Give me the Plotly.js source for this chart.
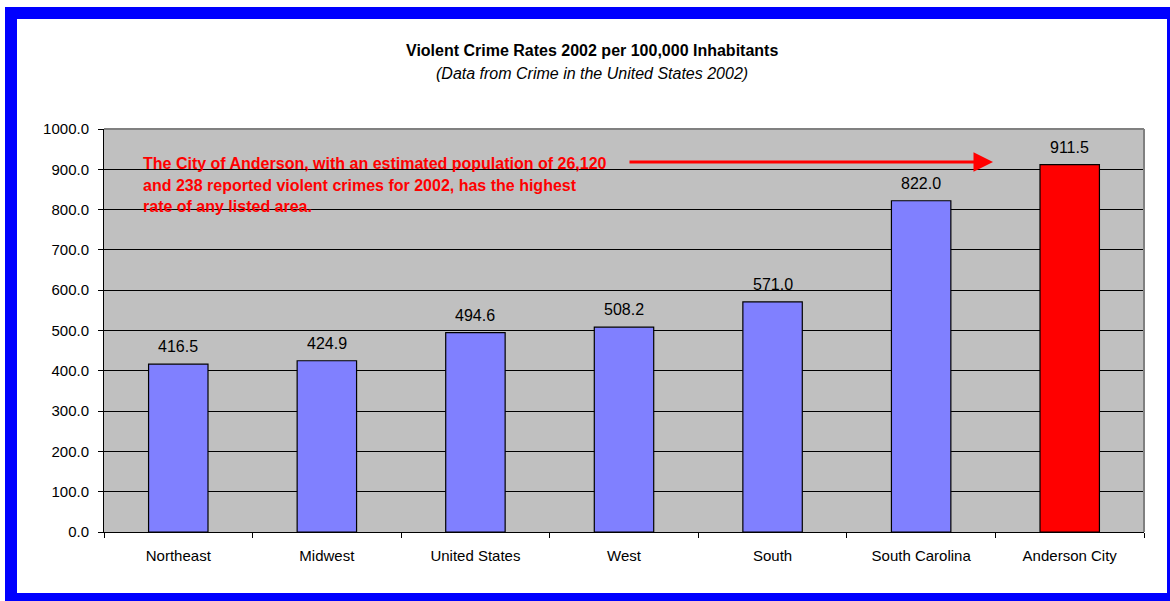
<!DOCTYPE html>
<html>
<head>
<meta charset="utf-8">
<script src="https://cdn.plot.ly/plotly-3.0.1.min.js"></script>
<style>
  html, body { margin: 0; padding: 0; background: #ffffff; }
  #chart { position: absolute; left: 0; top: 0; width: 1170px; height: 601px; }
  #frame {
    position: absolute; left: 5px; top: 7px; width: 1165px; height: 594px;
    box-sizing: border-box; pointer-events: none;
    border-left: 12px solid #0000FF; border-top: 12px solid #0000FF;
    border-right: 3px solid #0000FF; border-bottom: 8px solid #0000FF;
  }
</style>
</head>
<body>
<div id="chart"></div>
<div id="frame"></div>
<script>
const categories = ["Northeast", "Midwest", "United States", "West", "South", "South Carolina", "Anderson City"];
const rates = [416.5, 424.9, 494.6, 508.2, 571.0, 822.0, 911.5];
const barColors = ["#8080FF", "#8080FF", "#8080FF", "#8080FF", "#8080FF", "#8080FF", "#FF0000"];
const titleText = "Violent Crime Rates 2002 per 100,000 Inhabitants";
const subtitleText = "(Data from Crime in the United States 2002)";
const noteLines = [
  "The City of Anderson, with an estimated population of 26,120",
  "and 238 reported violent crimes for 2002, has the highest",
  "rate of any listed area."
];

const FONT = "Arial, 'Liberation Sans', sans-serif";
const L = 104, R = 1144, T = 129, B = 532;
const px = x => (x - L) / (R - L);
const py = y => (B - y) / (B - T);

const trace = {
  type: "bar",
  x: categories,
  y: rates,
  width: 0.4,
  marker: { color: barColors, line: { color: "#000000", width: 1.2 } },
  hoverinfo: "x+y"
};

const annotations = [];
annotations.push({
  xref: "paper", yref: "paper", x: px(592), y: py(51),
  xanchor: "center", yanchor: "middle", showarrow: false,
  text: "<b>" + titleText + "</b>",
  font: { family: FONT, size: 16, color: "#000000" }
});
annotations.push({
  xref: "paper", yref: "paper", x: px(592), y: py(73),
  xanchor: "center", yanchor: "middle", showarrow: false,
  text: "<i>" + subtitleText + "</i>",
  font: { family: FONT, size: 16, color: "#000000" }
});
categories.forEach((c, i) => {
  annotations.push({
    x: c, y: rates[i], xref: "x", yref: "y",
    text: rates[i].toFixed(1), showarrow: false,
    xanchor: "center", yanchor: "bottom", yshift: 7,
    font: { family: FONT, size: 16, color: "#000000" }
  });
});
const noteY = [163, 185, 206];
noteLines.forEach((t, i) => {
  annotations.push({
    xref: "paper", yref: "paper", x: px(141), y: py(noteY[i]),
    xanchor: "left", yanchor: "middle", showarrow: false,
    text: "<b>" + t + "</b>",
    font: { family: FONT, size: 16, color: "#FF0000" }
  });
});
annotations.push({
  xref: "paper", yref: "paper", x: px(993), y: py(162),
  ax: -(993 - 628), ay: 0, axref: "pixel", ayref: "pixel",
  showarrow: true, arrowhead: 2, arrowsize: 1.3, arrowwidth: 3,
  arrowcolor: "#FF0000", text: ""
});

const layout = {
  width: 1170, height: 601,
  margin: { l: L, r: 1170 - R, t: T, b: 601 - B, pad: 0 },
  paper_bgcolor: "#FFFFFF",
  plot_bgcolor: "#C0C0C0",
  showlegend: false,
  font: { family: FONT, size: 15, color: "#000000" },
  xaxis: {
    type: "category",
    showgrid: false,
    showline: true, linecolor: "#000000", linewidth: 1,
    ticks: "outside", tickson: "boundaries", ticklen: 5, tickcolor: "#000000",
    tickfont: { family: FONT, size: 15, color: "#000000" },
    ticklabelstandoff: 10,
    zeroline: false, fixedrange: true
  },
  yaxis: {
    range: [0, 1000], dtick: 100, tick0: 0,
    tickformat: ".1f",
    showgrid: true, gridcolor: "#000000", gridwidth: 1,
    showline: true, linecolor: "#000000", linewidth: 1,
    ticks: "outside", ticklen: 5, tickcolor: "#000000",
    tickfont: { family: FONT, size: 15, color: "#000000" },
    ticklabelstandoff: 6,
    zeroline: false, fixedrange: true
  },
  shapes: [
    { type: "line", xref: "paper", yref: "paper", x0: 0, x1: 1, y0: 1, y1: 1, line: { color: "#808080", width: 2 } },
    { type: "line", xref: "paper", yref: "paper", x0: 1, x1: 1, y0: 0, y1: 1, line: { color: "#808080", width: 2 } }
  ],
  annotations: annotations
};

Plotly.newPlot("chart", [trace], layout, { displayModeBar: false, staticPlot: true });
</script>
</body>
</html>
